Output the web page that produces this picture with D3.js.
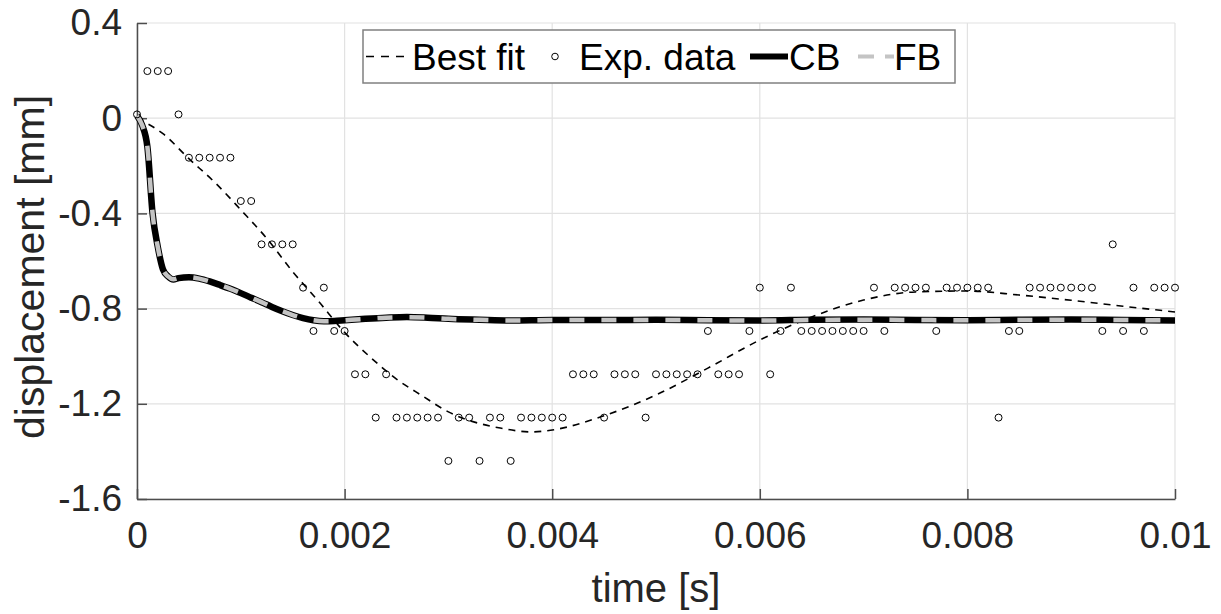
<!DOCTYPE html>
<html>
<head>
<meta charset="utf-8">
<script src="https://cdn.jsdelivr.net/npm/d3@7"></script>
<style>
  body { margin: 0; background: #fff; }
  svg { font-family: "Liberation Sans", Arial, Helvetica, sans-serif; }
</style>
</head>
<body>
<svg width="1221" height="614"></svg>
<script>
// experimental samples, one every 0.1 ms
const expTime = d3.range(101).map(i => i * 0.0001);
const expValues = [
  0.016, 0.198, 0.198, 0.198, 0.016, -0.166, -0.166, -0.166, -0.166, -0.166,
  -0.348, -0.348, -0.530, -0.530, -0.530, -0.530, -0.712, -0.894, -0.712, -0.894,
  -0.894, -1.076, -1.076, -1.258, -1.076, -1.258, -1.258, -1.258, -1.258, -1.258,
  -1.440, -1.258, -1.258, -1.440, -1.258, -1.258, -1.440, -1.258, -1.258, -1.258,
  -1.258, -1.258, -1.076, -1.076, -1.076, -1.258, -1.076, -1.076, -1.076, -1.258,
  -1.076, -1.076, -1.076, -1.076, -1.076, -0.894, -1.076, -1.076, -1.076, -0.894,
  -0.712, -1.076, -0.894, -0.712, -0.894, -0.894, -0.894, -0.894, -0.894, -0.894,
  -0.894, -0.712, -0.894, -0.712, -0.712, -0.712, -0.712, -0.894, -0.712, -0.712,
  -0.712, -0.712, -0.712, -1.258, -0.894, -0.894, -0.712, -0.712, -0.712, -0.712,
  -0.712, -0.712, -0.712, -0.894, -0.530, -0.894, -0.712, -0.894, -0.712, -0.712,
  -0.712
];

// best fit curve
const fitTime = [0, 0.00025, 0.0005, 0.00075, 0.001, 0.00125, 0.0015, 0.00175, 0.002, 0.00225,
  0.0025, 0.00275, 0.003, 0.0035, 0.0038, 0.004, 0.0045, 0.005, 0.0055, 0.006,
  0.0065, 0.007, 0.0075, 0.008, 0.0085, 0.009, 0.0095, 0.01];
const fitValues = [0, -0.065, -0.17, -0.27, -0.385, -0.505, -0.645, -0.77, -0.90, -1.005,
  -1.096, -1.167, -1.234, -1.302, -1.318, -1.31, -1.25, -1.163, -1.05, -0.932,
  -0.835, -0.764, -0.73, -0.726, -0.743, -0.765, -0.79, -0.814];

// CB and FB model responses
const modelTime = [0, 0.00005, 0.0001, 0.00015, 0.0002, 0.00025, 0.0003, 0.00035, 0.0004, 0.0005,
  0.0006, 0.0007, 0.0008, 0.0009, 0.001, 0.0011, 0.0012, 0.0013, 0.0014, 0.0015,
  0.0016, 0.0017, 0.0018, 0.0019, 0.002, 0.0022, 0.0024, 0.0026, 0.0028, 0.003,
  0.0033, 0.0036, 0.004, 0.0045, 0.005, 0.0055, 0.006, 0.0065, 0.007, 0.0075,
  0.008, 0.0085, 0.009, 0.0095, 0.01];
const cbValues = [0.01, -0.03, -0.12, -0.40, -0.54, -0.635, -0.665, -0.678, -0.672, -0.668,
  -0.674, -0.686, -0.701, -0.717, -0.735, -0.754, -0.773, -0.793, -0.811, -0.827,
  -0.84, -0.849, -0.853, -0.852, -0.849, -0.843, -0.838, -0.835, -0.838, -0.843,
  -0.847, -0.85, -0.848, -0.848, -0.847, -0.849, -0.85, -0.847, -0.846, -0.848,
  -0.849, -0.847, -0.846, -0.848, -0.85];
const fbValues = [0.01, -0.03, -0.12, -0.40, -0.54, -0.635, -0.665, -0.677, -0.672, -0.668,
  -0.674, -0.686, -0.701, -0.717, -0.735, -0.754, -0.773, -0.793, -0.811, -0.827,
  -0.84, -0.849, -0.853, -0.852, -0.849, -0.843, -0.838, -0.836, -0.838, -0.843,
  -0.847, -0.85, -0.848, -0.848, -0.848, -0.849, -0.85, -0.848, -0.847, -0.848,
  -0.849, -0.848, -0.847, -0.848, -0.85];

const xTicks = [0, 0.002, 0.004, 0.006, 0.008, 0.01];
const xTickLabels = ["0", "0.002", "0.004", "0.006", "0.008", "0.01"];
const yTicks = [0.4, 0, -0.4, -0.8, -1.2, -1.6];
const yTickLabels = ["0.4", "0", "-0.4", "-0.8", "-1.2", "-1.6"];

var svg = d3.select("svg");
var plotLeft = 137, plotRight = 1175, plotTop = 23, plotBottom = 499;

var x = d3.scaleLinear().domain([0, 0.01]).range([plotLeft, plotRight]);
var y = d3.scaleLinear().domain([-1.6, 0.4]).range([plotBottom, plotTop]);

svg.append("rect").attr("width", 1221).attr("height", 614).attr("fill", "#fff");

// grid
var grid = svg.append("g").attr("stroke", "#e2e2e2").attr("stroke-width", 1.2);
grid.selectAll("line.v").data(xTicks).enter().append("line")
  .attr("x1", d => x(d)).attr("x2", d => x(d))
  .attr("y1", plotTop).attr("y2", plotBottom);
grid.selectAll("line.h").data(yTicks).enter().append("line")
  .attr("x1", plotLeft).attr("x2", plotRight)
  .attr("y1", d => y(d)).attr("y2", d => y(d));

// axes
var xAxis = d3.axisBottom(x).tickValues(xTicks)
  .tickFormat((d, i) => xTickLabels[i])
  .tickSizeInner(-10).tickSizeOuter(0).tickPadding(23);
var yAxis = d3.axisLeft(y).tickValues(yTicks)
  .tickFormat((d, i) => yTickLabels[i])
  .tickSizeInner(-10).tickSizeOuter(0).tickPadding(15);

var gx = svg.append("g").attr("transform", "translate(0," + plotBottom + ")").call(xAxis);
var gy = svg.append("g").attr("transform", "translate(" + plotLeft + ",0)").call(yAxis);
[gx, gy].forEach(g => {
  g.select(".domain").attr("stroke", "#4d4d4d").attr("stroke-width", 1.5);
  g.selectAll(".tick line").attr("stroke", "#4d4d4d").attr("stroke-width", 1.5);
  g.selectAll(".tick text").attr("fill", "#262626").style("font-size", "37px")
    .style("font-family", "'Liberation Sans', Arial, sans-serif");
});

// axis labels
svg.append("text").attr("x", (plotLeft + plotRight) / 2).attr("y", 602)
  .attr("text-anchor", "middle").attr("fill", "#262626")
  .style("font-size", "40px").text("time [s]");
svg.append("text")
  .attr("transform", "translate(44," + ((plotTop + plotBottom) / 2 + 6) + ") rotate(-90)")
  .attr("text-anchor", "middle").attr("fill", "#262626")
  .style("font-size", "41px").text("displacement [mm]");

// lines
var line = d3.line().x(d => x(d[0])).y(d => y(d[1])).curve(d3.curveMonotoneX);

var fitData = fitTime.map((t, i) => [t, fitValues[i]]);
var cbData = modelTime.map((t, i) => [t, cbValues[i]]);
var fbData = modelTime.map((t, i) => [t, fbValues[i]]);

var plot = svg.append("g");

plot.append("path").datum(fitData).attr("d", line)
  .attr("fill", "none").attr("stroke", "#000").attr("stroke-width", 1.6)
  .attr("stroke-dasharray", "7,6");

plot.append("path").datum(cbData).attr("d", line)
  .attr("fill", "none").attr("stroke", "#000").attr("stroke-width", 6.5)
  .attr("stroke-linejoin", "round");

plot.append("path").datum(fbData).attr("d", line)
  .attr("fill", "none").attr("stroke", "#c4c4c4").attr("stroke-width", 4.5)
  .attr("stroke-dasharray", "15,17");

// experimental data
plot.selectAll("circle").data(expValues).enter().append("circle")
  .attr("cx", (d, i) => x(expTime[i]))
  .attr("cy", d => y(d))
  .attr("r", 3.5)
  .attr("fill", "none").attr("stroke", "#000").attr("stroke-width", 1);

// legend
var lg = svg.append("g");
lg.append("rect").attr("x", 363).attr("y", 30).attr("width", 592).attr("height", 53)
  .attr("fill", "#fff").attr("stroke", "#808080").attr("stroke-width", 1.5);
var ly = 56.5;
lg.append("line").attr("x1", 366).attr("x2", 410).attr("y1", ly).attr("y2", ly)
  .attr("stroke", "#000").attr("stroke-width", 1.6).attr("stroke-dasharray", "8,7");
lg.append("circle").attr("cx", 555).attr("cy", ly).attr("r", 3.3)
  .attr("fill", "none").attr("stroke", "#000").attr("stroke-width", 1);
lg.append("line").attr("x1", 750).attr("x2", 788).attr("y1", ly).attr("y2", ly)
  .attr("stroke", "#000").attr("stroke-width", 6);
lg.append("line").attr("x1", 858).attr("x2", 894).attr("y1", ly).attr("y2", ly)
  .attr("stroke", "#c4c4c4").attr("stroke-width", 4).attr("stroke-dasharray", "16,11");

var legendItems = [["Best fit", 412], ["Exp. data", 579], ["CB", 789], ["FB", 894]];
lg.selectAll("text").data(legendItems).enter().append("text")
  .attr("x", d => d[1]).attr("y", 70)
  .attr("fill", "#000").style("font-size", "37px")
  .text(d => d[0]);
</script>
</body>
</html>
